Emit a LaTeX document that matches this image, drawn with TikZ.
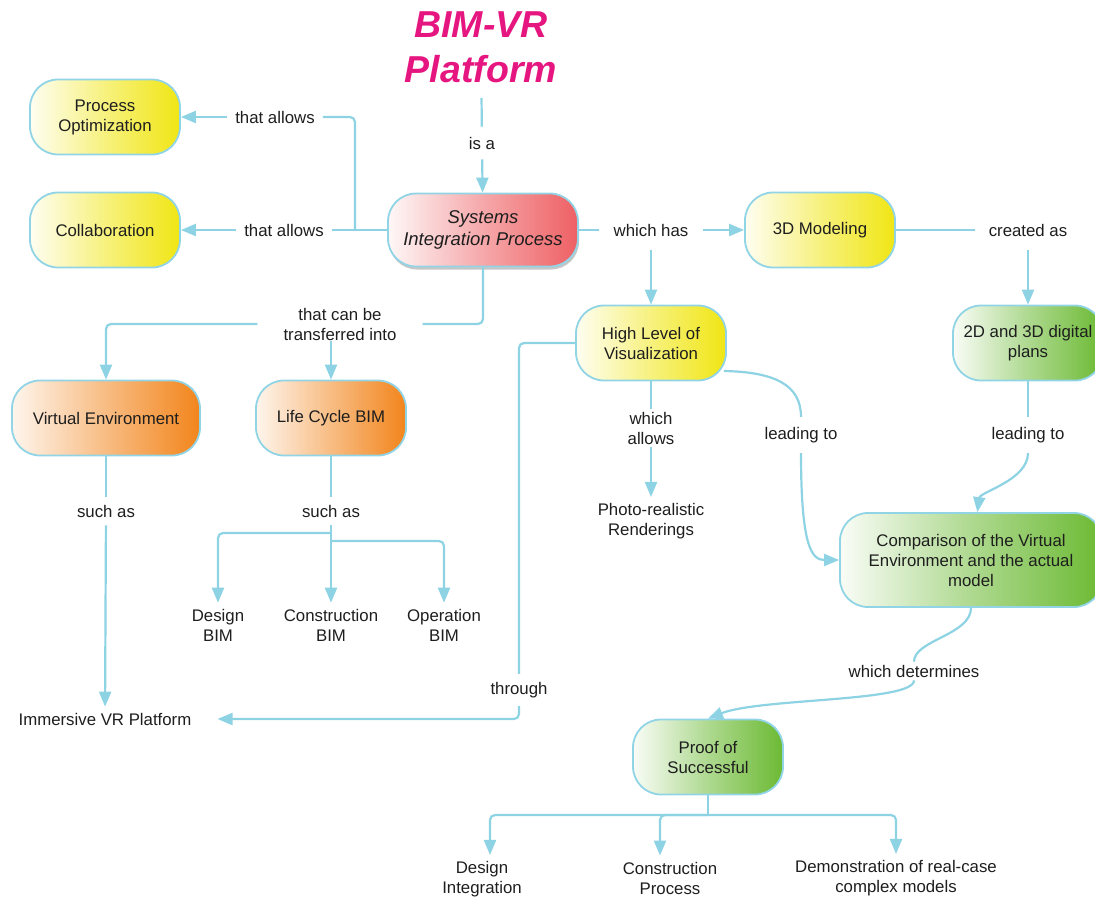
\documentclass[tikz,border=0pt]{standalone}
\usepackage{fontspec}
\setmainfont{Liberation Sans}
\usetikzlibrary{arrows.meta,shadows}

\definecolor{linkblue}{RGB}{141,211,227}
\definecolor{rimblue}{RGB}{145,212,229}
\definecolor{textdark}{RGB}{30,30,30}
\definecolor{titlepink}{RGB}{230,22,128}
\definecolor{cyellow}{RGB}{240,230,20}
\definecolor{cred}{RGB}{238,96,100}
\definecolor{corange}{RGB}{242,133,28}
\definecolor{cgreen}{RGB}{108,186,52}

\begin{document}
\begin{tikzpicture}[x=1pt,y=-1pt,
    every node/.style={font=\fontsize{16.8}{20}\selectfont, text=textdark},
    concept/.style={draw=rimblue, line width=1.8pt, rounded corners=28pt,
        minimum width=150pt, minimum height=75pt, align=center, inner sep=4pt},
    yellowbox/.style={concept, left color=cyellow!6!white, right color=cyellow, middle color=cyellow!55!white},
    redbox/.style={concept, left color=cred!5!white, right color=cred, middle color=cred!55!white},
    orangebox/.style={concept, left color=corange!8!white, right color=corange, middle color=corange!55!white},
    greenbox/.style={concept, left color=cgreen!4!white, right color=cgreen, middle color=cgreen!55!white},
    linklabel/.style={align=center, inner sep=8pt},
    plain/.style={align=center, inner sep=6pt},
    titletext/.style={align=center, inner sep=15pt,
        font=\fontsize{37.5}{45}\selectfont\bfseries\itshape},
    link/.style={draw=linkblue, line width=2.2pt, rounded corners=5pt},
    arrowlink/.style={link, -{Triangle[length=15pt,width=12pt]}}
  ]
  \useasboundingbox (0,0) rectangle (1095,899);
  \clip (0,0) rectangle (1095,899);

  % --- title ---
  \node[titletext, text=titlepink] (title) at (481,47) {BIM-VR\\Platform};

  % --- concepts ---
  \node[yellowbox] (procopt) at (105,117) {Process\\Optimization};
  \node[yellowbox] (collab) at (105,230) {Collaboration};
  \node[redbox, minimum width=190pt, minimum height=73pt,
        font=\fontsize{18.5}{22}\selectfont\itshape,
        drop shadow={shadow xshift=1pt, shadow yshift=-3pt, opacity=0.45}] (sysint) at (483,230) {Systems\\Integration Process};
  \node[yellowbox] (modeling) at (820,230) {3D Modeling};
  \node[yellowbox] (visual) at (651,343) {High Level of\\Visualization};
  \node[greenbox] (plans) at (1028,343) {2D and 3D digital\\plans};
  \node[orangebox, minimum width=188pt] (virtenv) at (106,418) {Virtual Environment};
  \node[orangebox] (lifebim) at (331,418) {Life Cycle BIM};
  \node[greenbox, minimum width=262pt, minimum height=94pt] (compare) at (971,560) {Comparison of the Virtual\\Environment and the actual\\model};
  \node[greenbox] (proof) at (708,757) {Proof of\\Successful};

  % --- linking phrases ---
  \node[linklabel, inner sep=10pt] (isa) at (482,143) {is a};
  \node[linklabel] (allowtop) at (275,117) {that allows};
  \node[linklabel] (allowmid) at (284,230) {that allows};
  \node[linklabel, inner sep=14pt] (whichhas) at (651,230) {which has};
  \node[linklabel, inner sep=14pt] (createdas) at (1028,230) {created as};
  \node[linklabel, inner xsep=26pt, inner ysep=1pt] (transfer) at (340,324) {that can be\\transferred into};
  \node[linklabel] (suchasve) at (106,511) {such as};
  \node[linklabel] (suchaslc) at (331,511) {such as};
  \node[linklabel, inner ysep=3pt] (whichallows) at (651,428) {which\\allows};
  \node[linklabel, inner sep=10pt] (leadvis) at (801,435) {leading to};
  \node[linklabel, inner sep=10pt] (leadplans) at (1028,435) {leading to};
  \node[linklabel] (through) at (519,690) {through};
  \node[linklabel, inner ysep=3pt] (determines) at (914,671) {which determines};

  % --- plain concepts ---
  \node[plain] (photo) at (651,521) {Photo-realistic\\Renderings};
  \node[plain] (designbim) at (218,625) {Design\\BIM};
  \node[plain] (consbim) at (331,625) {Construction\\BIM};
  \node[plain] (operbim) at (444,625) {Operation\\BIM};
  \node[plain] (immersive) at (105,719) {Immersive VR Platform};
  \node[plain] (designint) at (482,879) {Design\\Integration};
  \node[plain] (consproc) at (670,878) {Construction\\Process};
  \node[plain] (democase) at (896,878) {Demonstration of real-case\\complex models};

  % --- connectors ---
  \coordinate (allowfork) at (355,230);
  \coordinate (bimfork) at (331,533);
  \coordinate (bimforkb) at (331,541);
  \coordinate (prooffork) at (708,815);

  \draw[link] (title) -- (isa);
  \draw[arrowlink] (isa) -- (sysint);
  \draw[link] (sysint) -- (allowmid);
  \draw[link] (allowfork) |- (allowtop);
  \draw[arrowlink] (allowtop) -- (procopt);
  \draw[arrowlink] (allowmid) -- (collab);

  \draw[link] (sysint) -- (whichhas);
  \draw[arrowlink] (whichhas) -- (modeling);
  \draw[arrowlink] (whichhas) -- (visual);
  \draw[link] (modeling) -- (createdas);
  \draw[arrowlink] (createdas) -- (plans);

  \draw[link] (sysint.south) |- (transfer);
  \draw[arrowlink] (transfer) -| (virtenv);
  \draw[arrowlink] (transfer.south -| lifebim.north) -- (lifebim);

  \draw[link] (virtenv) -- (suchasve);
  \draw[arrowlink] (suchasve) -- (immersive);
  \draw[link] (lifebim) -- (suchaslc);
  \draw[arrowlink] (suchaslc) -- (consbim);
  \draw[arrowlink] (bimfork) -| (designbim);
  \draw[arrowlink] (bimforkb) -| (operbim);

  \draw[link] (visual) -| (through);
  \draw[arrowlink, shorten >=20pt] (through) |- (immersive);
  \draw[link] (visual) -- (whichallows);
  \draw[arrowlink] (whichallows) -- (photo);

  \draw[link] ([xshift=-3pt,yshift=-28pt]visual.east) .. controls (775,372) and (801,385) .. (leadvis);
  \draw[arrowlink] (leadvis) .. controls (801,548) and (812,560) .. (compare);
  \draw[link] (plans) -- (leadplans);
  \draw[arrowlink] (leadplans) .. controls (1028,480) and (980,492) .. (compare);
  \draw[link] (compare) .. controls (971,635) and (914,640) .. (determines);
  \draw[arrowlink] (determines) .. controls (914,702) and (760,698) .. (proof.north);

  \draw[link] (proof) -- (prooffork);
  \draw[arrowlink] (prooffork) -| ([xshift=8pt]designint.north);
  \draw[arrowlink] (prooffork) -| ([xshift=-10pt]consproc.north);
  \draw[arrowlink] (prooffork) -| (democase);
\end{tikzpicture}
\end{document}
